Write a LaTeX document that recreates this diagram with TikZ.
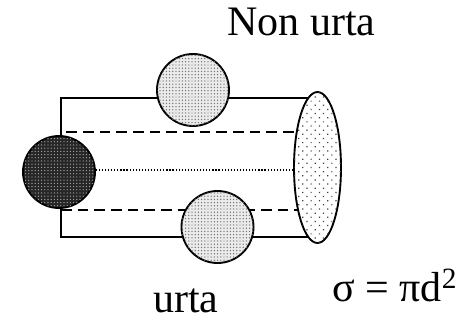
\documentclass[tikz,border=0pt]{standalone}
\usepackage{fontspec}
\setmainfont{Liberation Serif}
\usetikzlibrary{shapes.geometric,patterns.meta}
\begin{document}
\begin{tikzpicture}[x=0.75pt,y=-0.75pt,
  edge/.style={line width=1.1pt},
  ball/.style={circle,draw,line width=1.4pt,minimum size=72*0.75pt,inner sep=0pt},
  lbl/.style={font=\fontsize{31.5pt}{36pt}\selectfont,inner sep=0pt,anchor=base west}]
\useasboundingbox (0,0) rectangle (467,321);
\coordinate (tl) at (61,98);
\coordinate (bl) at (61,237);
\coordinate (tr) at (317,98);
\coordinate (br) at (317,237);
\draw[edge] (tr) -- (tl) -- (bl) -- (br);
\coordinate (d1a) at (61,132); \coordinate (d1b) at (317,132);
\coordinate (d2a) at (61,210); \coordinate (d2b) at (317,210);
\coordinate (c0) at (59,170); \coordinate (c1) at (317,170);
\draw[edge,dash pattern=on 8pt off 4.5pt,dash phase=-4pt] (d1a) -- (d1b);
\draw[edge,dash pattern=on 8pt off 4.5pt] (d2a) -- (d2b);
\draw[line width=0.9pt,dash pattern=on 0.9pt off 1.4pt] (c0) -- (c1);
\node[ball,fill=black!85,postaction={pattern={Dots[distance=2.4pt,radius=0.5pt]},pattern color=black!35}] (dark) at (59,172) {};
\node[ball,fill=black!8,postaction={pattern={Dots[distance=2.4pt,radius=0.55pt]},pattern color=black!55}] (top) at (193,90) {};
\node[ball,fill=black!8,postaction={pattern={Dots[distance=2.4pt,radius=0.55pt]},pattern color=black!55}] (bot) at (217.5,227) {};
\node[ellipse,draw,line width=1.4pt,fill=white,postaction={pattern={Dots[distance=4.4pt,radius=0.65pt,angle=45]},pattern color=black!75},minimum width=47*0.75pt,minimum height=151*0.75pt,inner sep=0pt] (ell) at (317.5,167.5) {};
\node[lbl] (nu) at (227,36) {Non urta};
\node[lbl] (u) at (153,312) {urta};
\node[lbl] (s) at (332,301) {σ = πd\textsuperscript{2}};
\end{tikzpicture}
\end{document}
